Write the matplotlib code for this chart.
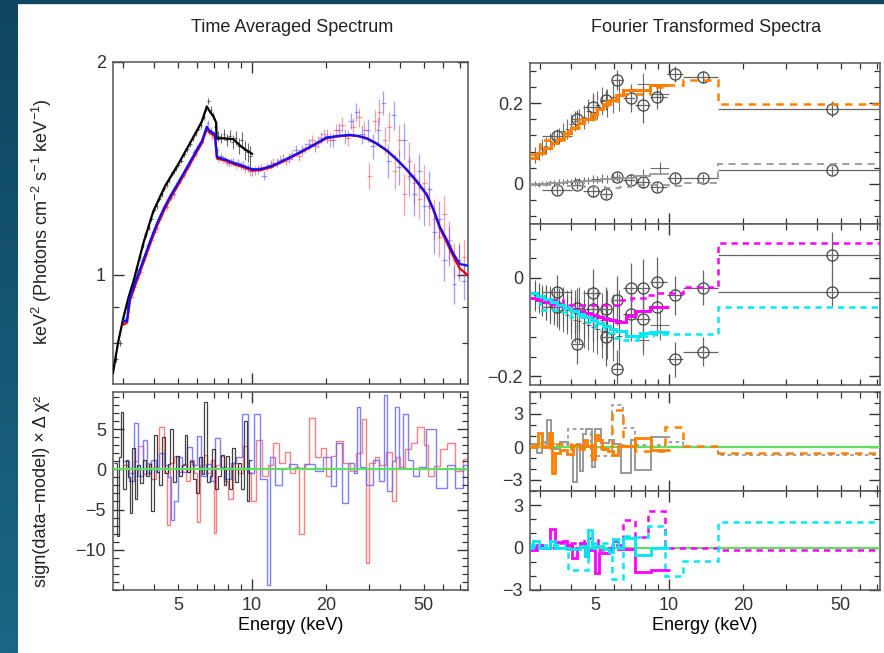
import numpy as np
import matplotlib
matplotlib.use('Agg')
import matplotlib.pyplot as plt
from matplotlib.ticker import FixedLocator, FuncFormatter, MultipleLocator, NullFormatter
from matplotlib.patches import Rectangle

plt.rcParams['font.family'] = ['Liberation Sans', 'DejaVu Sans']
plt.rcParams['mathtext.fontset'] = 'custom'
plt.rcParams['mathtext.rm'] = 'Liberation Sans'
plt.rcParams['mathtext.it'] = 'Liberation Sans:italic'

# ---------------- Left: time-averaged spectrum ----------------
black_E = [2.8, 2.9, 3.0, 3.1, 3.2, 3.3, 3.4, 3.5, 3.6, 3.7,
           3.8, 3.9, 4.0, 4.1, 4.2, 4.3, 4.4, 4.5, 4.6, 4.7,
           4.8, 4.9, 5.0, 5.15, 5.3, 5.45, 5.6, 5.75, 5.9, 6.05,
           6.2, 6.35, 6.5, 6.65, 6.8, 6.95, 7.1, 7.3, 7.5, 7.7,
           7.9, 8.1, 8.35, 8.6, 8.85, 9.1, 9.35, 9.6, 9.85]
black_v = [0.76, 0.80, 0.86, 0.90, 0.95, 0.985, 1.02, 1.06, 1.10, 1.14,
           1.165, 1.20, 1.235, 1.25, 1.28, 1.30, 1.325, 1.34, 1.36, 1.385,
           1.40, 1.415, 1.43, 1.45, 1.48, 1.505, 1.53, 1.56, 1.585, 1.61,
           1.63, 1.67, 1.72, 1.76, 1.71, 1.68, 1.62, 1.57, 1.56, 1.58,
           1.55, 1.57, 1.54, 1.56, 1.52, 1.55, 1.50, 1.49, 1.47]
black_err = [0.008, 0.008, 0.008, 0.008, 0.008, 0.009, 0.009, 0.009, 0.009, 0.009,
             0.01, 0.01, 0.01, 0.01, 0.01, 0.011, 0.011, 0.011, 0.011, 0.011,
             0.012, 0.012, 0.012, 0.013, 0.013, 0.013, 0.014, 0.014, 0.015, 0.015,
             0.016, 0.016, 0.017, 0.018, 0.02, 0.02, 0.02, 0.025, 0.025, 0.03,
             0.03, 0.03, 0.035, 0.035, 0.04, 0.04, 0.045, 0.045, 0.05]

red_E = [3.1, 3.3, 3.5, 3.7, 3.9, 4.1, 4.3, 4.5, 4.7, 4.9,
         5.1, 5.3, 5.5, 5.7, 5.9, 6.1, 6.3, 6.5, 6.7, 6.9,
         7.1, 7.3, 7.6, 7.9, 8.2, 8.6, 9.0, 9.4, 9.8, 10.3,
         10.9, 11.5, 12.2, 13.0, 13.8, 14.6, 15.5, 16.5, 17.5, 18.5,
         19.6, 20.8, 22.0, 23.2, 24.5, 25.8, 27.2, 28.6, 30.0, 31.5,
         33.0, 34.6, 36.2, 38.0, 39.8, 41.7, 43.7, 45.8, 48.0, 50.3,
         52.7, 55.2, 57.8, 60.5, 63.4, 66.4, 69.5, 72.8]
red_v = [0.885, 0.96, 1.01, 1.07, 1.12, 1.165, 1.22, 1.245, 1.285, 1.33,
         1.355, 1.385, 1.42, 1.46, 1.48, 1.52, 1.55, 1.60, 1.59, 1.565,
         1.56, 1.46, 1.455, 1.44, 1.445, 1.43, 1.425, 1.41, 1.40, 1.405,
         1.42, 1.42, 1.44, 1.455, 1.45, 1.48, 1.47, 1.51, 1.55, 1.54,
         1.58, 1.55, 1.60, 1.63, 1.56, 1.62, 1.67, 1.60, 1.38, 1.65,
         1.70, 1.55, 1.62, 1.40, 1.55, 1.30, 1.45, 1.35, 1.28, 1.35,
         1.25, 1.20, 1.13, 1.22, 1.12, 1.05, 1.04, 1.06]
red_err = [0.012, 0.012, 0.012, 0.012, 0.012, 0.012, 0.012, 0.013, 0.013, 0.013,
           0.013, 0.013, 0.014, 0.014, 0.014, 0.015, 0.015, 0.015, 0.015, 0.016,
           0.016, 0.016, 0.017, 0.017, 0.018, 0.018, 0.018, 0.019, 0.019, 0.02,
           0.02, 0.02, 0.021, 0.021, 0.022, 0.023, 0.024, 0.025, 0.027, 0.03,
           0.03, 0.035, 0.035, 0.04, 0.04, 0.045, 0.05, 0.05, 0.06, 0.06,
           0.07, 0.07, 0.08, 0.08, 0.08, 0.09, 0.09, 0.09, 0.08, 0.08,
           0.08, 0.08, 0.07, 0.07, 0.07, 0.06, 0.06, 0.06]

blue_E = [3.05, 3.2, 3.4, 3.6, 3.8, 4.0, 4.2, 4.4, 4.6, 4.8,
          5.0, 5.2, 5.4, 5.6, 5.8, 6.0, 6.2, 6.4, 6.6, 6.8,
          7.0, 7.2, 7.45, 7.75, 8.05, 8.4, 8.8, 9.2, 9.6, 10.0,
          10.6, 11.2, 11.9, 12.6, 13.4, 14.2, 15.1, 16.0, 17.0, 18.0,
          19.1, 20.2, 21.4, 22.6, 23.9, 25.2, 26.6, 28.0, 29.5, 31.0,
          32.6, 34.2, 35.9, 37.7, 39.6, 41.5, 43.6, 45.7, 47.9, 50.2,
          52.6, 55.1, 57.7, 60.4, 63.3, 66.3, 69.4, 72.6]
blue_v = [0.86, 0.93, 0.99, 1.05, 1.10, 1.15, 1.20, 1.245, 1.28, 1.30,
          1.35, 1.38, 1.41, 1.44, 1.49, 1.51, 1.54, 1.58, 1.64, 1.60,
          1.58, 1.50, 1.47, 1.455, 1.44, 1.445, 1.44, 1.43, 1.415, 1.40,
          1.41, 1.38, 1.43, 1.44, 1.46, 1.46, 1.50, 1.50, 1.53, 1.52,
          1.56, 1.57, 1.55, 1.60, 1.57, 1.65, 1.70, 1.58, 1.60, 1.52,
          1.60, 1.75, 1.45, 1.68, 1.42, 1.55, 1.38, 1.30, 1.40, 1.25,
          1.32, 1.15, 1.20, 1.05, 1.10, 0.97, 1.05, 0.98]
blue_err = red_err

black_model_E = [2.72, 2.85, 3.0, 3.15, 3.3, 3.62, 3.97, 4.43, 5.02, 5.68, 6.24,
                 6.55, 6.75, 7.0, 7.15, 7.18, 7.6, 8.4, 9.0, 9.5, 10.0]
black_model = [0.726, 0.80, 0.87, 0.93, 0.98, 1.11, 1.23, 1.335, 1.435, 1.55, 1.645,
               1.73, 1.70, 1.67, 1.64, 1.558, 1.56, 1.555, 1.52, 1.50, 1.483]

rb_model_E = [3.0, 3.1, 3.19, 3.4, 3.62, 3.85, 4.1, 4.35, 4.64, 4.95,
              5.26, 5.6, 5.95, 6.25, 6.55, 6.7, 7.07, 7.2, 7.8, 8.4,
              9.2, 10.0, 10.8, 12.0, 13.4, 15.67, 18.0, 20.1, 22.5, 25.0,
              27.0, 29.3, 32.0, 35.3, 38.5, 42.5, 46.5, 51.3, 54.6, 58.0,
              62.0, 66.0, 70.0, 75.0]
blue_model = [0.86, 0.86, 0.93, 0.99, 1.05, 1.115, 1.18, 1.235, 1.29, 1.34,
              1.39, 1.445, 1.50, 1.545, 1.62, 1.60, 1.58, 1.467, 1.455, 1.44,
              1.425, 1.41, 1.41, 1.425, 1.45, 1.49, 1.53, 1.563, 1.572, 1.577,
              1.572, 1.56, 1.535, 1.50, 1.46, 1.41, 1.36, 1.30, 1.24, 1.17,
              1.12, 1.07, 1.035, 1.03]
red_model = [0.85, 0.855, 0.92, 0.98, 1.04, 1.105, 1.17, 1.225, 1.28, 1.33,
             1.38, 1.435, 1.49, 1.535, 1.61, 1.59, 1.57, 1.46, 1.45, 1.435,
             1.42, 1.405, 1.405, 1.42, 1.447, 1.487, 1.527, 1.56, 1.57, 1.575,
             1.57, 1.558, 1.533, 1.498, 1.458, 1.408, 1.357, 1.297, 1.235, 1.165,
             1.11, 1.06, 1.02, 1.00]

# residuals (left bottom): bin edges and values
bres_edges = [2.75, 2.82, 2.88, 2.94, 3.0, 3.06, 3.12, 3.18, 3.26, 3.34, 3.42, 3.5, 3.6,
              3.7, 3.8, 3.9, 4.0, 4.1, 4.2, 4.3, 4.42, 4.54, 4.66, 4.78, 4.9, 5.04,
              5.18, 5.32, 5.46, 5.6, 5.76, 5.92, 6.08, 6.24, 6.4, 6.56, 6.72, 6.9,
              7.08, 7.26, 7.46, 7.66, 7.86, 8.08, 8.3, 8.52, 8.76, 9.0, 9.26, 9.52,
              9.76, 10.0]
bres_v = [0.8, -8.3, 1.5, 7.1, -2.5, 1.2, -1.0, -5.4, 2.7, -3.7, 0.5, -1.7,
          1.2, -0.8, 0.6, -5.2, 4.2, -0.4, -2.0, 4.0, -0.5, 0.6, 5.0, -1.6, 1.6,
          -0.8, 0.5, 4.2, -0.4, 1.0, -1.2, -2.9, 1.5, -0.6, 8.3, -1.6, -0.8, 2.5,
          -2.5, -0.8, 1.8, -2.0, 1.6, -2.5, 2.7, -1.6, 0.8, -2.5, 6.0, -4.0, 1.2]
rres_edges = [3.0, 3.15, 3.3, 3.45, 3.6, 3.75, 3.9, 4.05, 4.2, 4.4, 4.5, 4.65, 4.8, 5.0,
              5.2, 5.4, 5.6, 5.8, 5.95, 6.15, 6.35, 6.55, 6.8, 7.0, 7.15, 7.4, 7.7,
              8.0, 8.4, 8.8, 9.2, 9.6, 9.9, 10.4, 11.0, 11.6, 12.2, 12.9, 13.6, 14.3,
              15.0, 15.6, 16.2, 17.0, 18.0, 19.0, 20.0, 21.0, 22.0, 23.5, 25.0, 26.5,
              28.0, 29.0, 29.8, 31.5, 33.0, 35.0, 37.0, 38.5, 40.0, 42.0, 44.5, 47.0,
              50.0, 52.0, 55.0, 58.0, 62.0, 67.0, 72.0, 76.0]
rres_v = [0.5, -0.5, 1.0, 2.9, -0.6, 0.8, -1.2, 0.4, 5.2, -0.5, -6.9, 0.8, 1.7,
          -0.4, 0.6, -1.5, 1.2, -0.5, -6.5, 0.5, 1.8, -0.5, 1.2, -7.9, 0.5, 1.6,
          -1.5, -3.75, 0.8, -0.5, 2.9, -0.4, -3.9, 3.6, -0.8, 0.5, 3.3, 0.8, 2.2,
          -0.5, 0.3, -8.1, 0.6, 6.4, 1.5, 2.7, -0.8, 1.7, 3.5, 0.8, -0.2, 2.0, 6.3,
          -11.6, 0.8, 1.5, 0.5, 2.2, -4.0, 1.5, 0.3, 2.5, 3.3, 5.2, 3.0, -0.8, 0.4,
          2.5, 3.3, -0.2, 1.25]
ures_edges = [3.0, 3.15, 3.3, 3.45, 3.6, 3.75, 3.9, 4.05, 4.2, 4.4, 4.55, 4.68, 4.8, 5.0,
              5.2, 5.45, 5.7, 5.95, 6.2, 6.5, 6.8, 7.1, 7.4, 7.8, 8.2, 8.6, 9.1, 9.6,
              10.2, 10.8, 11.5, 11.8, 12.4, 13.2, 14.2, 15.2, 16.5, 18.0, 19.5, 21.0,
              22.0, 23.2, 24.5, 26.0, 26.8, 27.6, 29.0, 31.0, 33.0, 34.5, 35.3, 37.0,
              38.0, 39.5, 41.0, 43.0, 45.0, 48.0, 51.0, 56.0, 62.0, 67.0, 72.0, 76.0]
ures_v = [1.0, -1.5, 5.8, -0.8, 3.6, -0.5, 1.2, -0.3, 2.0, 0.5, -1.0, -6.25, -4.0,
          1.5, -0.4, 2.8, 0.5, 4.1, -0.8, 0.6, -1.5, 3.9, 0.3, -1.2, 0.8, 1.5, 6.9,
          -0.5, 6.9, -1.2, -14.4, 1.5, -1.9, 0.2, 0.7, 0.2, 0.6, -0.2, 1.5, -2.1,
          3.3, -4.2, 0.8, -0.5, 7.7, 0.3, -2.0, 1.2, -1.5, 9.2, -2.7, 1.0, 7.7, 0.2,
          6.9, 1.2, -0.8, 0.3, 5.0, -2.3, 0.5, -2.3, 0.5]

# ---------------- Right: Fourier transformed spectra ----------------
circ_E = [3.50, 4.24, 4.92, 5.55, 6.13, 6.99, 7.82, 8.96, 10.6, 13.7, 46.3]
circ_lo = [3.04, 4.02, 4.47, 5.3, 5.85, 6.52, 7.3, 8.37, 9.8, 11.4, 15.9]
circ_hi = [4.02, 4.47, 5.3, 5.85, 6.52, 7.3, 8.37, 9.8, 11.4, 15.9, 76.0]

p1_up_v = [0.1185, 0.162, 0.191, 0.207, 0.258, 0.214, 0.195, 0.2156, 0.273, 0.265, 0.185]
p1_up_err = [0.018, 0.02, 0.035, 0.025, 0.025, 0.035, 0.045, 0.03, 0.02, 0.015, 0.02]
p1_lo_v = [-0.0148, -0.004, -0.0173, -0.0247, 0.018, 0.0099, 0.0033, -0.0082, 0.014, 0.014, 0.033]
p1_lo_err = [0.012, 0.01, 0.015, 0.012, 0.012, 0.015, 0.015, 0.012, 0.012, 0.01, 0.012]
p2_a_v = [-0.028, -0.061, -0.031, -0.064, -0.045, -0.0197, -0.021, -0.0075, -0.035, -0.0197, 0.047]
p2_a_err = [0.035, 0.04, 0.05, 0.045, 0.05, 0.05, 0.06, 0.05, 0.04, 0.035, 0.046]
p2_b_v = [-0.06, -0.135, -0.064, -0.12, -0.186, -0.0735, -0.084, -0.0585, -0.166, -0.150, -0.028]
p2_b_err = [0.04, 0.04, 0.05, 0.06, 0.04, 0.055, 0.065, 0.06, 0.035, 0.03, 0.03]

cross_E = [2.85, 2.95, 3.05, 3.15, 3.28, 3.42, 3.56, 3.7, 3.85, 4.0, 4.15,
           4.32, 4.5, 4.7, 4.9, 5.12, 5.35, 5.6, 5.9, 6.25, 7.86, 9.2]
cross_dE = [0.05, 0.05, 0.05, 0.05, 0.06, 0.06, 0.07, 0.07, 0.07, 0.07, 0.08,
            0.08, 0.09, 0.1, 0.1, 0.11, 0.12, 0.12, 0.15, 0.17, 0.45, 0.85]
p1_xup_v = [0.072, 0.08, 0.09, 0.095, 0.105, 0.112, 0.118, 0.13, 0.135, 0.148, 0.155,
            0.16, 0.165, 0.18, 0.19, 0.195, 0.205, 0.2, 0.215, 0.22, 0.249, 0.222]
p1_xup_err = [0.02, 0.02, 0.02, 0.02, 0.02, 0.02, 0.02, 0.02, 0.025, 0.025, 0.025,
              0.025, 0.03, 0.03, 0.03, 0.035, 0.035, 0.035, 0.04, 0.04, 0.025, 0.02]
p1_xlo_v = [0.0, -0.002, 0.002, 0.0, 0.004, 0.003, 0.005, 0.004, 0.006, 0.005, 0.008,
            0.007, 0.01, 0.009, 0.012, 0.011, 0.013, 0.012, 0.015, 0.014, 0.022, 0.039]
p1_xlo_err = [0.006, 0.006, 0.006, 0.006, 0.006, 0.007, 0.007, 0.007, 0.007, 0.008, 0.008,
              0.008, 0.008, 0.009, 0.009, 0.009, 0.01, 0.01, 0.01, 0.01, 0.015, 0.015]
p2_xa_v = [-0.038, -0.042, -0.045, -0.05, -0.052, -0.055, -0.06, -0.058, -0.065, -0.068, -0.07,
           -0.064, -0.075, -0.07, -0.08, -0.076, -0.085, -0.08, -0.088, -0.085, -0.127, -0.096]
p2_xa_err = [0.03, 0.03, 0.03, 0.035, 0.035, 0.035, 0.04, 0.04, 0.04, 0.045, 0.045,
             0.045, 0.05, 0.05, 0.05, 0.05, 0.055, 0.055, 0.055, 0.06, 0.03, 0.03]
p2_xb_v = [-0.035, -0.04, -0.048, -0.05, -0.058, -0.06, -0.066, -0.07, -0.075, -0.08, -0.085,
           -0.088, -0.092, -0.096, -0.1, -0.104, -0.108, -0.11, -0.115, -0.118]
p2_xb_err = [0.03, 0.03, 0.03, 0.035, 0.035, 0.035, 0.04, 0.04, 0.04, 0.045, 0.045,
             0.045, 0.05, 0.05, 0.05, 0.05, 0.055, 0.055, 0.055, 0.06]

or_sol_edges = [2.72, 2.9, 3.1, 3.3, 3.5, 3.75, 4.0, 4.25, 4.5, 4.8, 5.1, 5.4, 5.75,
                6.1, 6.5, 8.35, 10.0]
or_sol_v = [0.063, 0.0755, 0.0886, 0.1008, 0.1123, 0.1258, 0.1384, 0.1503, 0.1614,
            0.174, 0.1858, 0.197, 0.2093, 0.2209, 0.234, 0.245]
or_dsh_edges = [2.72, 3.0, 3.9, 4.3, 5.0, 5.6, 6.2, 8.35, 9.7, 11.4, 15.9, 76.0]
or_dsh_v = [0.075, 0.109, 0.140, 0.160, 0.185, 0.205, 0.224, 0.24, 0.246, 0.258, 0.199]
gr_sol_edges = [2.72, 3.2, 3.8, 4.5, 5.3, 6.2, 7.2, 8.35, 10.0]
gr_sol_v = [0.0, 0.002, 0.005, 0.008, 0.011, 0.014, 0.019, 0.024]
gr_dsh_edges = [2.72, 3.5, 4.5, 5.5, 6.3, 7.0, 8.35, 10.0, 11.4, 15.9, 76.0]
gr_dsh_v = [-0.002, -0.006, -0.008, -0.010, -0.007, -0.004, -0.002, -0.006, 0.003, 0.0486]

mg_sol_edges = [2.72, 2.9, 3.1, 3.3, 3.5, 3.75, 4.0, 4.25, 4.5, 4.8, 5.1, 5.4, 5.75,
                6.1, 6.7, 7.3, 8.35, 10.0]
mg_sol_v = [-0.041, -0.0449, -0.0489, -0.0527, -0.0563, -0.0605, -0.0644, -0.0681,
            -0.0716, -0.0755, -0.0792, -0.0826, -0.0865, -0.090, -0.078, -0.068, -0.059]
cy_sol_edges = [2.72, 2.9, 3.1, 3.3, 3.5, 3.75, 4.0, 4.25, 4.5, 4.8, 5.1, 5.4, 5.75,
                6.1, 6.7, 7.6, 8.4, 10.0]
cy_sol_v = [-0.030, -0.0363, -0.0428, -0.0489, -0.0546, -0.0613, -0.0676, -0.0735,
            -0.0791, -0.0854, -0.0913, -0.0969, -0.1030, -0.1088, -0.118, -0.113, -0.110]
mg_dot_edges = [2.72, 2.99, 3.7, 6.3, 7.0, 8.0, 8.9, 10.0, 11.4, 15.9, 76.0]
mg_dot_v = [-0.040, -0.045, -0.055, -0.045, -0.041, -0.035, -0.031, -0.031, -0.019, 0.071]
cy_dot_edges = [2.72, 3.0, 3.6, 4.0, 4.5, 5.0, 5.5, 5.9, 6.5, 7.5, 8.6, 15.9, 76.0]
cy_dot_v = [-0.04, -0.066, -0.070, -0.080, -0.090, -0.100, -0.112, -0.123, -0.126,
            -0.118, -0.114, -0.0585]

r3_or_sol_edges = [2.72, 2.85, 2.94, 3.04, 3.26, 3.34, 3.44, 3.61, 3.84, 4.08, 4.35, 4.51,
                   4.63, 4.85, 5.0, 5.16, 5.33, 5.67, 5.94, 6.22, 7.28, 8.43, 10.1]
r3_or_sol_v = [0.0, 0.2, 1.24, 0.0, 1.24, -2.4, -0.5, -0.3, -0.6, 0.2, 0.0, 0.6, 0.1,
               -1.1, 1.06, 0.6, -0.2, -0.4, -0.7, 0.05, 0.82, -0.3]
r3_or_dsh_edges = [2.72, 3.3, 4.0, 4.8, 5.3, 5.85, 6.52, 7.3, 9.6, 11.4, 15.9, 76.0]
r3_or_dsh_v = [0.1, 0.3, -0.2, 0.2, -0.1, 3.4, 0.05, -0.4, 1.85, 0.06, -0.58]
r3_gr_sol_edges = [2.72, 2.9, 3.05, 3.18, 3.3, 3.6, 3.9, 4.08, 4.21, 4.35, 4.45, 4.6,
                   4.85, 5.0, 5.3, 5.7, 6.0, 6.4, 7.0, 7.28, 8.43, 10.1]
r3_gr_sol_v = [0.3, -0.5, 0.5, 2.45, -0.2, 0.5, 0.0, -3.15, 0.3, -2.2, 1.2, 1.6, -1.8,
               1.6, 0.4, 0.6, 0.3, -2.4, 0.67, -2.1, 0.88]
r3_gr_dot_edges = [2.72, 3.9, 4.8, 5.85, 6.52, 7.3, 8.4, 9.6, 11.4, 15.9, 76.0]
r3_gr_dot_v = [0.3, 1.6, -0.8, 3.8, 1.7, 0.2, 0.2, 0.5, 0.0, -0.7]

r4_mg_sol_edges = [2.72, 2.9, 3.04, 3.28, 3.44, 3.72, 3.84, 4.05, 4.21, 4.35, 4.57, 4.7,
                   5.0, 5.2, 5.38, 5.72, 5.94, 6.22, 6.52, 7.28, 8.43, 10.1]
r4_mg_sol_v = [-0.14, 0.2, 0.0, 1.33, 0.4, 0.5, 0.2, -0.72, 0.0, 0.3, -0.6, -0.2,
               -1.77, -0.4, -0.4, 0.0, 0.5, -0.1, -0.1, -1.7, -1.6]
r4_cy_sol_edges = [2.72, 2.8, 2.95, 3.28, 3.44, 3.84, 4.35, 4.57, 4.7, 4.85, 5.0, 5.38,
                   5.72, 5.94, 6.22, 6.52, 7.28, 8.43, 10.1]
r4_cy_sol_v = [0.0, 0.5, 0.0, 0.5, 0.0, -0.1, 0.1, -0.6, 1.25, 0.0, 0.1, -0.1, -0.3,
               0.6, 0.0, 0.66, -0.54, 0.0]
r4_mg_dot_edges = [2.72, 3.5, 4.5, 5.16, 5.85, 6.52, 7.28, 8.2, 9.6, 15.9, 76.0]
r4_mg_dot_v = [0.0, 0.3, 0.7, -0.2, 0.2, 1.96, 0.75, 2.6, 0.0, -0.2]
r4_cy_dot_edges = [2.72, 3.9, 4.7, 5.85, 6.52, 7.28, 8.2, 9.6, 11.4, 15.9, 76.0]
r4_cy_dot_v = [0.2, -1.6, 0.3, -2.2, 0.85, 0.75, 1.5, -2.0, -0.95, 1.8]

# ---------------- figure ----------------
W, H = 884, 653
fig = plt.figure(figsize=(W / 100, H / 100), dpi=100)
fig.patch.set_facecolor('white')


def box(x0, y0, x1, y1):
    return [x0 / W, 1 - y1 / H, (x1 - x0) / W, (y1 - y0) / H]


# slide background strips
bg = fig.add_axes([0, 0, 18 / W, 1])
grad = np.linspace(0, 1, 256).reshape(-1, 1)
from matplotlib.colors import LinearSegmentedColormap
cmap = LinearSegmentedColormap.from_list('bg', ['#0f455f', '#1a6787'])
bg.imshow(grad, aspect='auto', cmap=cmap, extent=[0, 1, 0, 1])
bg.set_axis_off()
fig.patches.append(Rectangle((0, 1 - 3 / H), 1, 3 / H, transform=fig.transFigure,
                             color='#0f455f', zorder=0))

SP = '#555555'
GREEN = '#5ee05e'


def style(ax, xmax, labels):
    ax.set_xscale('log')
    ax.set_xlim(2.72, xmax)
    ax.xaxis.set_major_locator(FixedLocator([10]))
    ax.xaxis.set_minor_locator(FixedLocator([3, 4, 5, 6, 7, 8, 9, 20, 30, 40, 50, 60, 70]))
    if labels:
        ax.xaxis.set_major_formatter(FuncFormatter(lambda v, p: '%g' % v))
        ax.xaxis.set_minor_formatter(FuncFormatter(
            lambda v, p: ('%g' % v) if round(v) in (5, 20, 50) else ''))
    else:
        ax.xaxis.set_major_formatter(NullFormatter())
        ax.xaxis.set_minor_formatter(NullFormatter())
    ax.tick_params(which='both', direction='in', top=True, right=True,
                   labelsize=13, colors='#333333', pad=5)
    ax.tick_params(which='major', length=8, width=1.0)
    ax.tick_params(which='minor', length=4, width=0.9)
    for s in ax.spines.values():
        s.set_color(SP)
        s.set_linewidth(1.1)
    ax.set_facecolor('white')


# ---- left top ----
ax1 = fig.add_axes(box(113, 62, 468, 384))
style(ax1, 75.6, False)
ax1.set_yscale('log')
ax1.set_ylim(0.70, 2.0)
ax1.yaxis.set_major_locator(FixedLocator([1, 2]))
ax1.yaxis.set_major_formatter(FuncFormatter(lambda v, p: '%g' % v))
ax1.yaxis.set_minor_locator(FixedLocator([0.8, 0.9]))
ax1.yaxis.set_minor_formatter(NullFormatter())


def half_widths(E):
    E = np.asarray(E)
    d = np.diff(E)
    lo = np.concatenate([[d[0]], d]) / 2
    hi = np.concatenate([d, [d[-1]]]) / 2
    return [lo, hi]


ax1.errorbar(red_E, red_v, yerr=red_err, xerr=half_widths(red_E), fmt='none',
             ecolor='#ff5050', alpha=0.55, elinewidth=0.9)
ax1.errorbar(blue_E, blue_v, yerr=blue_err, xerr=half_widths(blue_E), fmt='none',
             ecolor='#5050ff', alpha=0.55, elinewidth=0.9)
ax1.errorbar(black_E, black_v, yerr=black_err, xerr=half_widths(black_E), fmt='none',
             ecolor='#444444', alpha=0.8, elinewidth=0.8)
ax1.plot(black_model_E, black_model, color='black', lw=1.6, zorder=5)
ax1.plot(rb_model_E, red_model, color='#ee0000', lw=1.6, zorder=5)
ax1.plot(rb_model_E, blue_model, color='#1010ff', lw=1.6, zorder=6)

# ---- left bottom ----
ax2 = fig.add_axes(box(113, 392, 468, 590))
style(ax2, 75.6, True)
ax2.set_ylim(-15, 9.6)
ax2.yaxis.set_major_locator(FixedLocator([-10, -5, 0, 5]))
ax2.yaxis.set_minor_locator(MultipleLocator(1))
ax2.stairs(rres_v, rres_edges, baseline=None, color='#ff7070', lw=1.0, alpha=0.9)
ax2.stairs(ures_v, ures_edges, baseline=None, color='#7070ff', lw=1.0, alpha=0.9)
ax2.stairs(bres_v, bres_edges, baseline=None, color='#222222', lw=0.9, alpha=0.85)
ax2.axhline(0, color=GREEN, lw=1.6, zorder=6)
ax2.set_xlabel('Energy (keV)', fontsize=13, labelpad=2)

# ---- right panels ----
GREY = '#999999'
ORANGE = '#ff8000'
MAG = '#ff00ff'
CYAN = '#00e8f0'
circ_xerr = [np.array(circ_E) - np.array(circ_lo), np.array(circ_hi) - np.array(circ_E)]


def circles(ax, v, err):
    ax.errorbar(circ_E, v, yerr=err, xerr=circ_xerr, fmt='o', mfc='none', mec='#444444',
                ms=8, mew=0.9, ecolor='#666666', elinewidth=0.9, zorder=4)


def crosses(ax, E, dE, v, err):
    ax.errorbar(E, v, yerr=err, xerr=dE, fmt='none', ecolor='#555555',
                elinewidth=0.8, alpha=0.85, zorder=3)


p1 = fig.add_axes(box(530, 63, 880, 224))
style(p1, 72.3, False)
p1.set_ylim(-0.1, 0.3)
p1.yaxis.set_major_locator(MultipleLocator(0.2))
p1.yaxis.set_minor_locator(MultipleLocator(0.04))
p1.yaxis.set_major_formatter(FuncFormatter(lambda v, p: '0' if abs(v) < 1e-9 else '%g' % v))
crosses(p1, cross_E, cross_dE, p1_xup_v, p1_xup_err)
crosses(p1, cross_E, cross_dE, p1_xlo_v, p1_xlo_err)
circles(p1, p1_up_v, p1_up_err)
circles(p1, p1_lo_v, p1_lo_err)
p1.stairs(gr_sol_v, gr_sol_edges, baseline=None, color=GREY, lw=1.3, zorder=5)
p1.stairs(gr_dsh_v, gr_dsh_edges, baseline=None, color=GREY, lw=1.3, ls=(0, (4, 3)), zorder=5)
p1.stairs(or_dsh_v, or_dsh_edges, baseline=None, color=ORANGE, lw=1.8, ls=(0, (3, 2.5)), zorder=6)
p1.stairs(or_sol_v, or_sol_edges, baseline=None, color=ORANGE, lw=2.2, zorder=7)

p2 = fig.add_axes(box(530, 224, 880, 385))
style(p2, 72.3, False)
p2.set_ylim(-0.218, 0.11)
p2.yaxis.set_major_locator(MultipleLocator(0.2))
p2.yaxis.set_minor_locator(MultipleLocator(0.04))
p2.yaxis.set_major_formatter(FuncFormatter(
    lambda v, p: '0' if abs(v) < 1e-9 else ('\u22120.2' if v < 0 else '%g' % v)))
crosses(p2, cross_E, cross_dE, p2_xa_v, p2_xa_err)
crosses(p2, cross_E[:20], cross_dE[:20], p2_xb_v, p2_xb_err)
circles(p2, p2_a_v, p2_a_err)
circles(p2, p2_b_v, p2_b_err)
p2.stairs(mg_dot_v, mg_dot_edges, baseline=None, color=MAG, lw=1.8, ls=(0, (2.5, 2)), zorder=6)
p2.stairs(cy_dot_v, cy_dot_edges, baseline=None, color=CYAN, lw=1.8, ls=(0, (2.5, 2)), zorder=6)
p2.stairs(mg_sol_v, mg_sol_edges, baseline=None, color=MAG, lw=2.2, zorder=7)
p2.stairs(cy_sol_v, cy_sol_edges, baseline=None, color=CYAN, lw=2.2, zorder=7)

p3 = fig.add_axes(box(530, 392, 880, 491))
style(p3, 72.3, False)
p3.set_ylim(-4, 5)
p3.yaxis.set_major_locator(FixedLocator([-3, 0, 3]))
p3.yaxis.set_minor_locator(MultipleLocator(1))
p3.yaxis.set_major_formatter(FuncFormatter(lambda v, p: ('\u2212%g' % -v) if v < 0 else '%g' % v))
p3.stairs(r3_gr_dot_v, r3_gr_dot_edges, baseline=None, color=GREY, lw=1.3, ls=(0, (2, 2)))
p3.stairs(r3_gr_sol_v, r3_gr_sol_edges, baseline=None, color=GREY, lw=1.4)
p3.axhline(0, color=GREEN, lw=1.6, zorder=4)
p3.stairs(r3_or_dsh_v, r3_or_dsh_edges, baseline=None, color=ORANGE, lw=1.8,
          ls=(0, (3, 2.5)), zorder=5)
p3.stairs(r3_or_sol_v, r3_or_sol_edges, baseline=None, color=ORANGE, lw=2.0, zorder=6)

p4 = fig.add_axes(box(530, 491, 880, 590))
style(p4, 72.3, True)
p4.set_ylim(-3, 4)
p4.yaxis.set_major_locator(FixedLocator([-3, 0, 3]))
p4.yaxis.set_minor_locator(MultipleLocator(1))
p4.yaxis.set_major_formatter(FuncFormatter(lambda v, p: ('\u2212%g' % -v) if v < 0 else '%g' % v))
p4.axhline(0, color=GREEN, lw=1.6, zorder=4)
p4.stairs(r4_mg_dot_v, r4_mg_dot_edges, baseline=None, color=MAG, lw=1.8,
          ls=(0, (2.5, 2)), zorder=5)
p4.stairs(r4_cy_dot_v, r4_cy_dot_edges, baseline=None, color=CYAN, lw=1.8,
          ls=(0, (2.5, 2)), zorder=5)
p4.stairs(r4_mg_sol_v, r4_mg_sol_edges, baseline=None, color=MAG, lw=2.0, zorder=6)
p4.stairs(r4_cy_sol_v, r4_cy_sol_edges, baseline=None, color=CYAN, lw=2.0, zorder=7)
p4.set_xlabel('Energy (keV)', fontsize=13, labelpad=2)

ax2.yaxis.set_major_formatter(FuncFormatter(lambda v, p: ('\u2212%g' % -v) if v < 0 else '%g' % v))

# titles and labels
fig.text(292 / W, 1 - 27 / H, 'Time Averaged Spectrum', ha='center', va='center',
         fontsize=13, color='#222222')
fig.text(706 / W, 1 - 27 / H, 'Fourier Transformed Spectra', ha='center', va='center',
         fontsize=13, color='#222222')
fig.text(42 / W, 1 - 222 / H, r'keV$^2$ (Photons cm$^{-2}$ s$^{-1}$ keV$^{-1}$)',
         rotation=90, ha='center', va='center', fontsize=13, color='#222222')
fig.text(42 / W, 1 - 491 / H, 'sign(data\u2212model) \u00d7 \u0394 \u03c7\u00b2',
         rotation=90, ha='center', va='center', fontsize=13, color='#222222')

fig.savefig('out.png', dpi=100)
